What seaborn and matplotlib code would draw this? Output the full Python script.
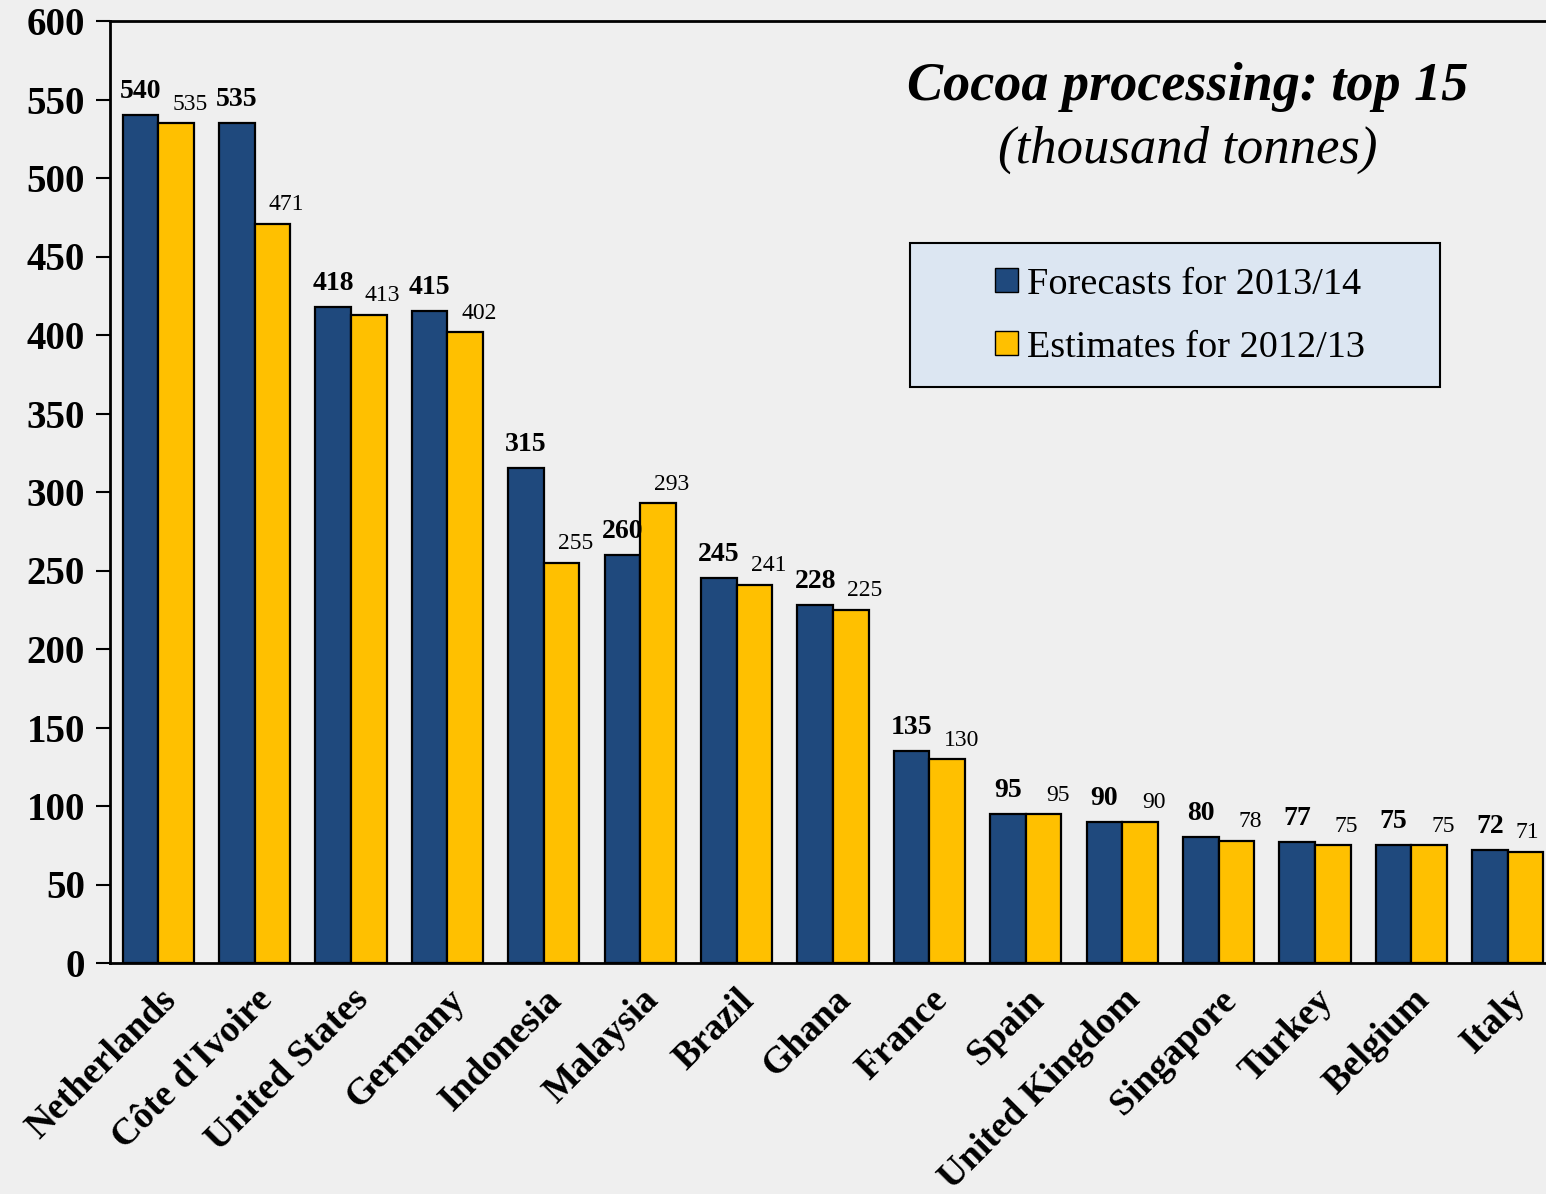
import pandas as pd
import matplotlib.pyplot as plt
import seaborn as sns
from matplotlib.patches import Patch, Rectangle

# Data
countries = ["Netherlands", "Côte d'Ivoire", "United States", "Germany", "Indonesia",
             "Malaysia", "Brazil", "Ghana", "France", "Spain", "United Kingdom",
             "Singapore", "Turkey", "Belgium", "Italy"]
forecast_1314 = [540, 535, 418, 415, 315, 260, 245, 228, 135, 95, 90, 80, 77, 75, 72]
estimate_1213 = [535, 471, 413, 402, 255, 293, 241, 225, 130, 95, 90, 78, 75, 75, 71]
series_names = ["Forecasts for 2013/14", "Estimates for 2012/13"]
y_ticks = list(range(0, 601, 50))

sns.set_theme(style="white")
plt.rcParams['font.family'] = ['Liberation Serif', 'DejaVu Serif']
plt.rcParams['text.color'] = 'black'
plt.rcParams['xtick.color'] = 'black'
plt.rcParams['ytick.color'] = 'black'
plt.rcParams['axes.labelcolor'] = 'black'
bg = '#EFEFEF'
blue = '#1F497D'
yellow = '#FFC000'

df = pd.DataFrame({
    'country': countries * 2,
    'value': forecast_1314 + estimate_1213,
    'series': [series_names[0]] * len(countries) + [series_names[1]] * len(countries),
})

W, H = 1546, 1194
fig = plt.figure(figsize=(W / 100, H / 100), dpi=100, facecolor=bg)
ax = fig.add_axes([110 / W, 1 - 963 / H, 1446 / W, (963 - 21) / H])
ax.set_facecolor(bg)

sns.barplot(data=df, x='country', y='value', hue='series', order=countries,
            hue_order=series_names, palette=[blue, yellow], width=0.74,
            edgecolor='black', linewidth=1.6, saturation=1, legend=False, ax=ax)

# value labels
n = len(countries)
for i, cont in enumerate(ax.containers):
    for j, (bar, v) in enumerate(zip(cont, [forecast_1314, estimate_1213][i])):
        x = bar.get_x() + bar.get_width() / 2
        h = bar.get_height()
        if i == 0:
            ax.annotate(f"{v}", (x, h), xytext=(0, 8), textcoords='offset points',
                        ha='center', va='bottom', fontsize=20, fontweight='bold')
        else:
            dx = 10 if j < n - 1 else 1  # last one pulled in so it stays on the page
            ax.annotate(f"{v}", (x, h), xytext=(dx, 6), textcoords='offset points',
                        ha='center', va='bottom', fontsize=17)

ax.set_ylim(0, 600)
ax.set_xlim(-0.5, n - 0.5)
ax.set_yticks(y_ticks)
ax.set_yticklabels([str(t) for t in y_ticks], fontsize=28, fontweight='bold')
ax.set_xticks(range(n))
ax.set_xticklabels(countries, rotation=45, ha='right', rotation_mode='anchor',
                   fontsize=27, fontweight='bold')
ax.set_xticks([i - 0.5 for i in range(n + 1)], minor=True)
ax.tick_params(axis='x', which='major', length=0, pad=14)
ax.tick_params(axis='x', which='minor', length=8, width=1.5, direction='out', color='black')
ax.tick_params(axis='y', length=10, width=1.5, direction='out', color='black', pad=8, left=True)
ax.set_xlabel('')
ax.set_ylabel('')
for s in ['left', 'bottom', 'top']:
    ax.spines[s].set_color('black')
    ax.spines[s].set_linewidth(2)
ax.spines['right'].set_visible(False)

# title
fig.text(1188 / W, 1 - 87 / H, "Cocoa processing: top 15", ha='center', va='center',
         fontsize=39, fontweight='bold', style='italic')
fig.text(1188 / W, 1 - 150 / H, "(thousand tonnes)", ha='center', va='center',
         fontsize=38, style='italic')

# legend box
fig.patches.append(Rectangle((910 / W, 1 - 387 / H), 530 / W, 144 / H,
                             transform=fig.transFigure, facecolor='#DCE6F2',
                             edgecolor='black', linewidth=1.5, zorder=1))
handles = [Patch(facecolor=blue, edgecolor='black', label=series_names[0]),
           Patch(facecolor=yellow, edgecolor='black', label=series_names[1])]
leg = fig.legend(handles=handles, loc='center left', bbox_to_anchor=(995 / W, 1 - 316 / H),
                 fontsize=27.5, frameon=False, handlelength=0.6, handleheight=0.6,
                 handletextpad=0.25, labelspacing=0.75, borderpad=0, borderaxespad=0)
leg.set_zorder(3)

fig.savefig('out.png', dpi=100, facecolor=bg)
